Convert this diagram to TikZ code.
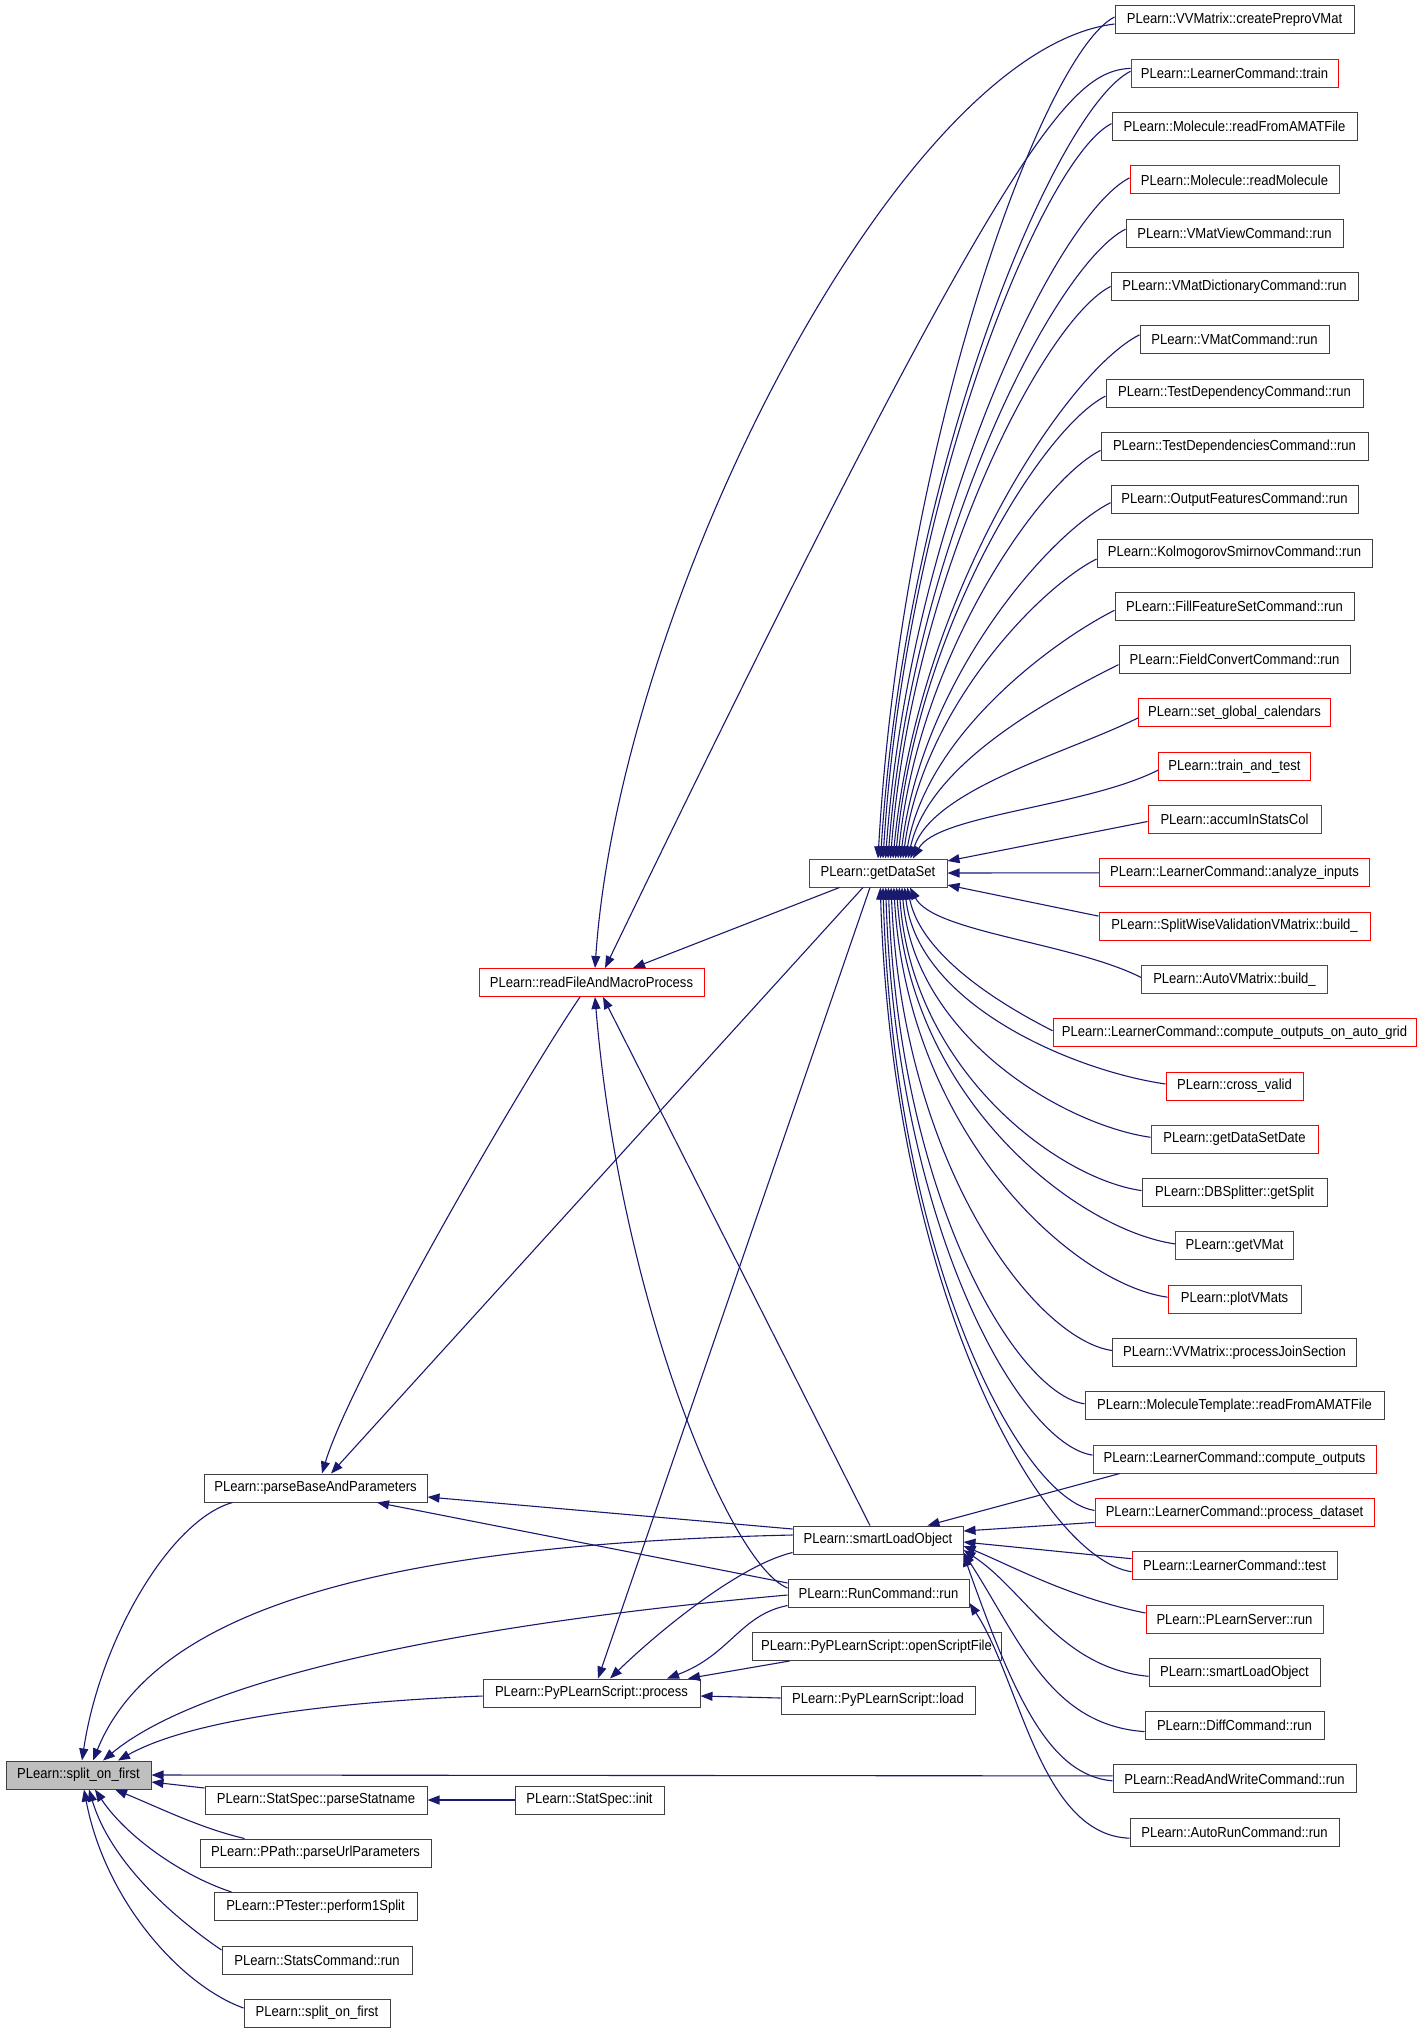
\documentclass[tikz,border=0pt]{standalone}
\usepackage{fontspec}
\setmainfont{Liberation Sans}[FakeStretch=0.9]
\usetikzlibrary{arrows.meta,calc}
\definecolor{edgeblue}{RGB}{25,25,112}
\definecolor{boxgray}{RGB}{191,191,191}
\definecolor{boxline}{RGB}{64,64,64}
\tikzset{
  fn/.style={draw=boxline, line width=1pt, minimum height=28pt, inner sep=0pt,
             font=\fontsize{14.5}{16}\selectfont, text=black},
  fnred/.style={fn, draw=red},
  cg/.style={draw=edgeblue, line width=1.1pt, -{Triangle[length=12pt,width=9pt]}},
}
\begin{document}
\begin{tikzpicture}[x=1pt,y=-1pt]
\fill[white] (0,0) rectangle (1421,2033);
\useasboundingbox (0,0) rectangle (1421,2033);

% left part
\node[fn, fill=boxgray, minimum width=145pt] (S) at (78.5,1775) {PLearn::split\_on\_first};
\node[fn, minimum width=223pt] (P) at (315.5,1488) {PLearn::parseBaseAndParameters};
\node[fn, minimum width=217pt] (PR) at (591.5,1693) {PLearn::PyPLearnScript::process};
\node[fn, minimum width=222pt] (PS) at (316,1800) {PLearn::StatSpec::parseStatname};
\node[fn, minimum width=231pt] (PU) at (315.5,1853) {PLearn::PPath::parseUrlParameters};
\node[fn, minimum width=203pt] (PT) at (315.5,1906.5) {PLearn::PTester::perform1Split};
\node[fn, minimum width=190pt] (SC) at (317,1960) {PLearn::StatsCommand::run};
\node[fn, minimum width=146pt] (S2) at (317,2013) {PLearn::split\_on\_first};
\node[fnred, minimum width=225pt] (RF) at (591.5,982.5) {PLearn::readFileAndMacroProcess};
\node[fn, minimum width=149pt] (SI) at (589.5,1800) {PLearn::StatSpec::init};
\node[fnred, minimum width=138pt] (G) at (878,873) {PLearn::getDataSet};
\node[fn, minimum width=170pt] (SL) at (878,1540) {PLearn::smartLoadObject};
\node[fn, minimum width=181pt] (RC) at (878.5,1593) {PLearn::RunCommand::run};
\node[fn, minimum width=249pt] (OS) at (876.5,1646.5) {PLearn::PyPLearnScript::openScriptFile};
\node[fn, minimum width=194pt] (LD) at (878,1700) {PLearn::PyPLearnScript::load};

% right column
\node[fn,    minimum width=239pt] (n1)  at (1234.5,20.0)   {PLearn::VVMatrix::createPreproVMat};
\node[fnred, minimum width=207pt] (n2)  at (1234.5,73.3)   {PLearn::LearnerCommand::train};
\node[fn,    minimum width=245pt] (n3)  at (1234.5,126.6)  {PLearn::Molecule::readFromAMATFile};
\node[fnred, minimum width=209pt] (n4)  at (1234.5,179.9)  {PLearn::Molecule::readMolecule};
\node[fn,    minimum width=217pt] (n5)  at (1234.5,233.2)  {PLearn::VMatViewCommand::run};
\node[fn,    minimum width=247pt] (n6)  at (1234.5,286.5)  {PLearn::VMatDictionaryCommand::run};
\node[fn,    minimum width=189pt] (n7)  at (1234.5,339.8)  {PLearn::VMatCommand::run};
\node[fn,    minimum width=257pt] (n8)  at (1234.5,393.1)  {PLearn::TestDependencyCommand::run};
\node[fn,    minimum width=267pt] (n9)  at (1234.5,446.4)  {PLearn::TestDependenciesCommand::run};
\node[fn,    minimum width=247pt] (n10) at (1234.5,499.7)  {PLearn::OutputFeaturesCommand::run};
\node[fn,    minimum width=275pt] (n11) at (1234.5,553.0)  {PLearn::KolmogorovSmirnovCommand::run};
\node[fn,    minimum width=239pt] (n12) at (1234.5,606.3)  {PLearn::FillFeatureSetCommand::run};
\node[fn,    minimum width=231pt] (n13) at (1234.5,659.6)  {PLearn::FieldConvertCommand::run};
\node[fnred, minimum width=192pt] (n14) at (1234.5,712.9)  {PLearn::set\_global\_calendars};
\node[fnred, minimum width=152pt] (n15) at (1234.5,766.2)  {PLearn::train\_and\_test};
\node[fnred, minimum width=173pt] (n16) at (1234.5,819.5)  {PLearn::accumInStatsCol};
\node[fnred, minimum width=270pt] (n17) at (1234.5,872.8)  {PLearn::LearnerCommand::analyze\_inputs};
\node[fnred, minimum width=271pt] (n18) at (1234.5,926.1)  {PLearn::SplitWiseValidationVMatrix::build\_};
\node[fnred, minimum width=186pt] (n19) at (1234.5,979.4)  {PLearn::AutoVMatrix::build\_};
\node[fnred, minimum width=363pt] (n20) at (1234.5,1032.7) {PLearn::LearnerCommand::compute\_outputs\_on\_auto\_grid};
\node[fnred, minimum width=137pt] (n21) at (1234.5,1086.0) {PLearn::cross\_valid};
\node[fnred, minimum width=167pt] (n22) at (1234.5,1139.3) {PLearn::getDataSetDate};
\node[fn,    minimum width=185pt] (n23) at (1234.5,1192.6) {PLearn::DBSplitter::getSplit};
\node[fnred, minimum width=118pt] (n24) at (1234.5,1245.9) {PLearn::getVMat};
\node[fnred, minimum width=133pt] (n25) at (1234.5,1299.2) {PLearn::plotVMats};
\node[fn,    minimum width=244pt] (n26) at (1234.5,1352.5) {PLearn::VVMatrix::processJoinSection};
\node[fn,    minimum width=299pt] (n27) at (1234.5,1405.8) {PLearn::MoleculeTemplate::readFromAMATFile};
\node[fnred, minimum width=283pt] (n28) at (1234.5,1459.1) {PLearn::LearnerCommand::compute\_outputs};
\node[fnred, minimum width=279pt] (n29) at (1234.5,1512.4) {PLearn::LearnerCommand::process\_dataset};
\node[fnred, minimum width=205pt] (n30) at (1234.5,1565.7) {PLearn::LearnerCommand::test};
\node[fnred, minimum width=177pt] (n31) at (1234.5,1619.0) {PLearn::PLearnServer::run};
\node[fn,    minimum width=171pt] (n32) at (1234.5,1672.3) {PLearn::smartLoadObject};
\node[fn,    minimum width=179pt] (n33) at (1234.5,1725.6) {PLearn::DiffCommand::run};
\node[fn,    minimum width=243pt] (n34) at (1234.5,1778.9) {PLearn::ReadAndWriteCommand::run};
\node[fn,    minimum width=209pt] (n35) at (1234.5,1832.2) {PLearn::AutoRunCommand::run};

% edges into split_on_first
\draw[cg] ($(P.south west)+(29,0)$) .. controls (170,1520) and (100,1640) .. ($(S.north)+(3.5,0)$);
\draw[cg] ($(SL.west)+(0,-5)$) .. controls (350,1545) and (150,1620) .. ($(S.north)+(14.5,0)$);
\draw[cg] ($(RC.west)+(0,2)$) .. controls (450,1625) and (200,1680) .. ($(S.north)+(24.5,0)$);
\draw[cg] ($(PR.west)+(0,3)$) .. controls (330,1702) and (190,1720) .. ($(S.north)+(39.5,0)$);
\draw[cg] ($(n34.west)+(0,-3)$) -- (S.east);
\draw[cg] ($(PS.west)+(0,-12)$) -- ($(S.east)+(0,7)$);
\draw[cg] ($(PU.north west)+(45,0)$) .. controls (200,1828) and (160,1808) .. ($(S.south)+(36.5,0)$);
\draw[cg] ($(PT.north west)+(18,0)$) .. controls (180,1875) and (125,1835) .. ($(S.south)+(16.5,0)$);
\draw[cg] ($(SC.west)+(0,-10)$) .. controls (170,1915) and (110,1860) .. ($(S.south)+(10.5,0)$);
\draw[cg] ($(S2.west)+(0,-5)$) .. controls (180,1985) and (105,1900) .. ($(S.south)+(5.5,0)$);

% edges into parseBaseAndParameters
\draw[cg] ($(RF.south)+(-11.5,0)$) .. controls (520,1085) and (350,1380) .. ($(P.north)+(6.5,0)$);
\draw[cg] ($(G.south)+(-15,0)$) -- ($(P.north)+(15.5,0)$);
\draw[cg] ($(SL.west)+(0,-11)$) -- ($(P.east)+(0,9)$);
\draw[cg] ($(RC.west)+(0,-10)$) -- ($(P.south)+(61.5,0)$);
\draw[cg] (SI.west) -- (PS.east);

% edges into readFileAndMacroProcess
\draw[cg] ($(n1.west)+(0,4)$) .. controls (900,50) and (620,600) .. ($(RF.north)+(3.5,0)$);
\draw[cg] ($(n2.west)+(0,-5)$) .. controls (1070,72) and (1010,130) .. ($(RF.north)+(13.5,0)$);
\draw[cg] ($(G.south west)+(31,0)$) -- ($(RF.north)+(41.5,0)$);
\draw[cg] ($(SL.north)+(-8,0)$) -- ($(RF.south)+(11.5,0)$);
\draw[cg] ($(RC.west)+(0,-5)$) .. controls (730,1565) and (620,1300) .. ($(RF.south)+(3.5,0)$);

% edges into PyPLearnScript::process
\draw[cg] ($(G.south)+(-8,0)$) -- ($(PR.north)+(6.5,0)$);
\draw[cg] ($(SL.south west)+(0,-2)$) .. controls (740,1565) and (660,1630) .. ($(PR.north)+(18.5,0)$);
\draw[cg] ($(RC.south west)+(0,-2)$) .. controls (740,1615) and (730,1655) .. ($(PR.north)+(75.5,0)$);
\draw[cg] ($(OS.south west)+(38,0)$) -- ($(PR.north)+(96.5,0)$);
\draw[cg] ($(LD.west)+(0,-2)$) -- ($(PR.east)+(0,3)$);

% edges into getDataSet from above
\draw[cg] ($(n1.west)+(0,-3)$)  .. controls (1043.9,52.6) and (901.7,438) .. (G.north);
\draw[cg] ($(n2.west)+(0,-2)$)  .. controls (1055.9,108.9) and (905.6,465.2) .. ($(G.north)+(2.5,0)$);
\draw[cg] ($(n3.west)+(0,-3)$)  .. controls (1043.3,158) and (905.9,491.3) .. ($(G.north)+(5,0)$);
\draw[cg] ($(n4.west)+(0,-2)$)  .. controls (1056.6,214.6) and (910,518.5) .. ($(G.north)+(7.5,0)$);
\draw[cg] ($(n5.west)+(0,-4)$)  .. controls (1054.6,264.9) and (911.8,544.1) .. ($(G.north)+(10,0)$);
\draw[cg] (n6.west)             .. controls (1044.9,319.6) and (912.6,572.8) .. ($(G.north)+(12.5,0)$);
\draw[cg] ($(n7.west)+(0,-5)$)  .. controls (1065.9,371.9) and (917.7,596.9) .. ($(G.north)+(15,0)$);
\draw[cg] ($(n8.west)+(0,3)$)   .. controls (1042.9,427.7) and (916.6,627.6) .. ($(G.north)+(17.5,0)$);
\draw[cg] ($(n9.west)+(0,4)$)   .. controls (1040.1,480.9) and (918.3,654.7) .. ($(G.north)+(20,0)$);
\draw[cg] ($(n10.west)+(0,3)$)  .. controls (1047.9,534.3) and (921.6,680.9) .. ($(G.north)+(22.5,0)$);
\draw[cg] ($(n11.west)+(0,6)$)  .. controls (1038.8,588.1) and (922.4,709) .. ($(G.north)+(25,0)$);
\draw[cg] ($(n12.west)+(0,4)$)  .. controls (1052.2,641.7) and (926.5,734.7) .. ($(G.north)+(27.5,0)$);
\draw[cg] ($(n13.west)+(0,5)$)  .. controls (1055.7,696.3) and (929.1,761.8) .. ($(G.north)+(30,0)$);
\draw[cg] ($(n14.west)+(0,5)$)  .. controls (1070.1,752.1) and (933.3,788.5) .. ($(G.north)+(32.5,0)$);
\draw[cg] ($(n15.west)+(0,4)$)  .. controls (1084.9,807) and (937.6,814.6) .. ($(G.north)+(35,0)$);

% edges into getDataSet from the right
\draw[cg] ($(n16.west)+(0,2)$) -- ($(G.east)+(0,-12)$);
\draw[cg] (n17.west) -- (G.east);
\draw[cg] ($(n18.west)+(0,-10)$) -- ($(G.east)+(0,12)$);

% edges into getDataSet from below
\draw[cg] ($(n19.west)+(0,-2)$) .. controls (1072.1,942.7) and (933.2,932.2) .. ($(G.south)+(32,0)$);
\draw[cg] ($(n20.west)+(0,-2)$) .. controls (1009.3,1008.8) and (921.9,958.9) .. ($(G.south)+(29.3,0)$);
\draw[cg] ($(n21.west)+(0,-2)$) .. controls (1074.5,1070.9) and (917.7,1005.2) .. ($(G.south)+(26.6,0)$);
\draw[cg] ($(n22.west)+(0,-2)$) .. controls (1063.8,1124.8) and (914.4,1037.2) .. ($(G.south)+(23.9,0)$);
\draw[cg] ($(n23.west)+(0,-2)$) .. controls (1057,1178.5) and (911.3,1069.2) .. ($(G.south)+(21.2,0)$);
\draw[cg] ($(n24.west)+(0,-2)$) .. controls (1077.9,1229.9) and (910.5,1101.1) .. ($(G.south)+(18.5,0)$);
\draw[cg] ($(n25.west)+(0,-2)$) .. controls (1072,1283.5) and (907.5,1133.1) .. ($(G.south)+(15.8,0)$);
\draw[cg] ($(n26.west)+(0,-2)$) .. controls (1035,1339.4) and (902.2,1165.1) .. ($(G.south)+(13.1,0)$);
\draw[cg] ($(n27.west)+(0,-2)$) .. controls (1016.2,1394) and (898.2,1197.1) .. ($(G.south)+(10.4,0)$);
\draw[cg] ($(n28.west)+(0,-4)$) .. controls (1020.4,1444.7) and (896,1227.9) .. ($(G.south)+(7.7,0)$);
\draw[cg] ($(n29.west)+(0,-2)$) .. controls (1020.8,1499.8) and (893.6,1261) .. ($(G.south)+(5,0)$);
\draw[cg] ($(n30.west)+(0,6)$)  .. controls (1043.9,1559.1) and (892.9,1297.8) .. ($(G.south)+(2.3,0)$);

% edges into smartLoadObject
\draw[cg] ($(n28.south west)+(27,0)$) -- ($(SL.north east)+(-36,0)$);
\draw[cg] ($(n29.west)+(0,10)$) -- ($(SL.east)+(0,-9)$);
\draw[cg] ($(n30.west)+(0,-7)$) -- ($(SL.east)+(0,2)$);
\draw[cg] ($(n31.west)+(0,-6)$) .. controls (1070,1598) and (1010,1565) .. ($(SL.east)+(0,6)$);
\draw[cg] ($(n32.west)+(0,4)$) .. controls (1060,1668) and (1025,1590) .. ($(SL.east)+(0,10)$);
\draw[cg] ($(n33.west)+(0,6)$) .. controls (1050,1725) and (1020,1640) .. ($(SL.south east)+(0,-2)$);
\draw[cg] ($(n34.west)+(0,2)$) .. controls (1050,1775) and (1015,1700) .. (SL.south east);

% edge into RunCommand::run
\draw[cg] ($(n35.west)+(0,6)$) .. controls (1040,1835) and (1020,1680) .. ($(RC.east)+(0,10)$);
\end{tikzpicture}
\end{document}
